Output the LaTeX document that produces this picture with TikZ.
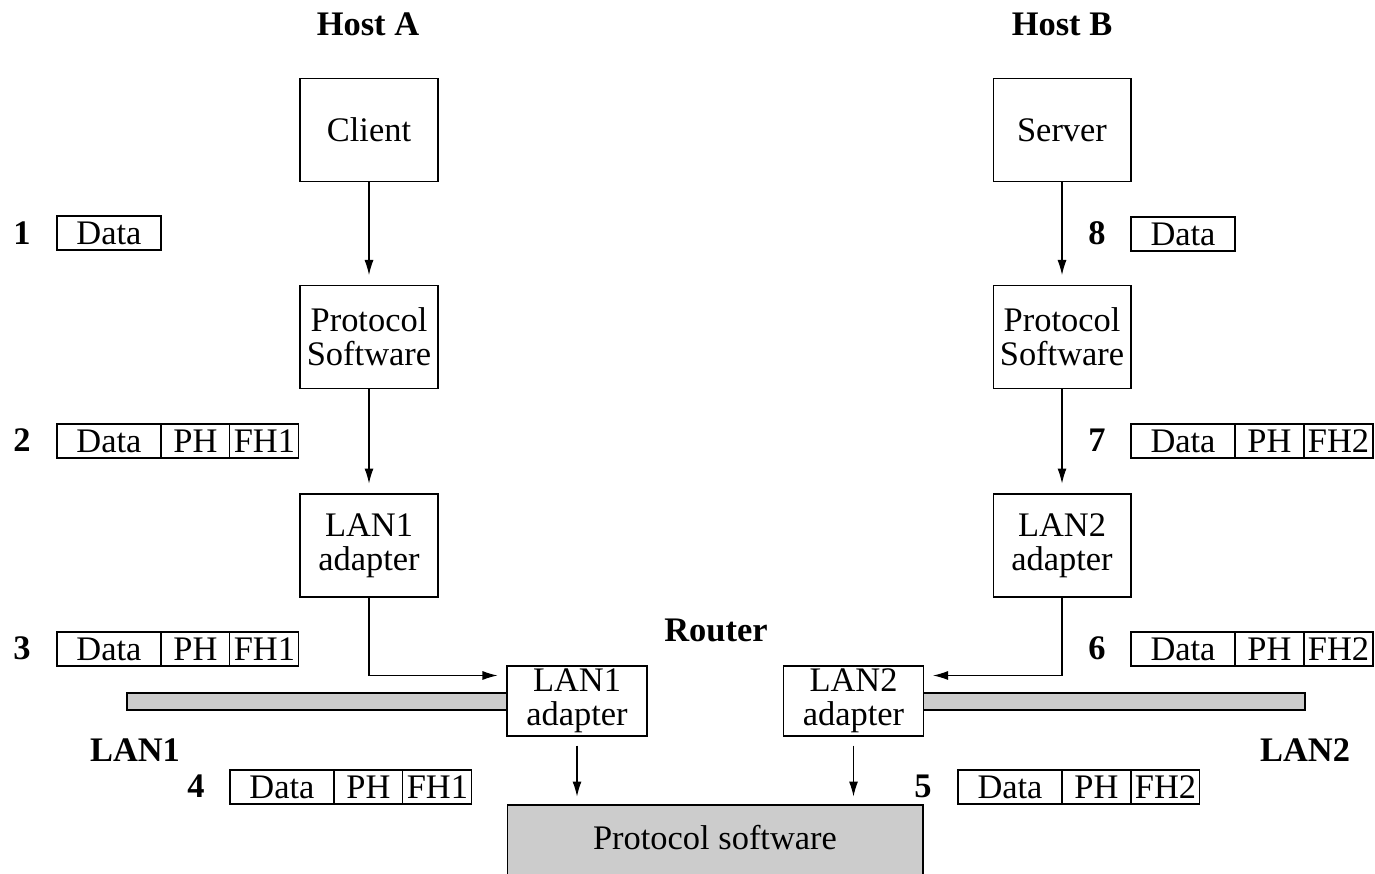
\documentclass[tikz,border=0pt]{standalone}
\usepackage{fontspec}
\setmainfont{Liberation Serif}
\usetikzlibrary{positioning,arrows.meta}
\definecolor{langray}{RGB}{204,204,204}
\newcommand{\figfont}{\fontsize{19.6}{19.4}\selectfont}
\tikzset{box/.style={draw,line width=0.6pt,minimum width=2.76cm,minimum height=2.06cm,inner sep=0pt,align=center,font=\figfont},
router box/.style={draw,line width=0.6pt,fill=white,minimum width=2.8cm,minimum height=1.4cm,inner sep=0pt,align=center,font=\figfont},
software box/.style={draw,line width=0.6pt,fill=langray,minimum width=8.32cm,minimum height=1.6cm,inner sep=0pt},
software text/.style={font=\figfont,inner sep=0pt},
lan bar/.style={draw,line width=0.6pt,fill=langray},
data cell/.style={draw,line width=0.6pt,minimum width=2.08cm,minimum height=0.68cm,inner sep=0pt,outer sep=0pt,anchor=west,font=\figfont},
header cell/.style={draw,line width=0.6pt,minimum width=1.38cm,minimum height=0.68cm,inner sep=0pt,outer sep=0pt,font=\figfont},
num label/.style={font=\figfont\bfseries,inner sep=0pt},
title/.style={font=\figfont\bfseries,inner sep=0pt},
flow/.style={line width=0.6pt,-{Latex[length=0.3cm,width=0.18cm]},shorten >=0.2cm}}

\begin{document}
\begin{tikzpicture}[x=0.02cm,y=-0.02cm]
\useasboundingbox (0,0) rectangle (1375,873);

%% titles
\node [title] (hostA) at (368,24) {Host A};
\node [title] (hostB) at (1062,24) {Host B};
\node [title] (router) at (716,630) {Router};
\node [title] (lan1) at (135,750) {LAN1};
\node [title] (lan2) at (1305,750) {LAN2};

%% host boxes
\node [box] (client) at (369,130) {Client};
\node [box] (server) at (1062,130) {Server};
\node [box] (protoA) at (369,337) {Protocol\\Software};
\node [box] (protoB) at (1062,337) {Protocol\\Software};
\node [box] (lanA) at (369,545.5) {LAN1\\adapter};
\node [box] (lanB) at (1062,545.5) {LAN2\\adapter};

%% networks
\filldraw [lan bar] (127,693) rectangle (507,710);
\filldraw [lan bar] (923,693) rectangle (1305,710);

%% router
\node [router box] (rlan1) at (577,701) {LAN1\\adapter};
\node [router box] (rlan2) at (853.5,701) {LAN2\\adapter};
\node [software box] (psw) at (715,845) {};
\node [software text] (pswtext) at (715,838) {Protocol software};

%% connector ends
\coordinate (r1in) at ([yshift=-0.2cm]rlan1.north west);
\coordinate (r2in) at ([yshift=-0.2cm]rlan2.north east);
\coordinate (p1in) at (rlan1.south |- psw.north);
\coordinate (p2in) at (rlan2.south |- psw.north);

%% arrows
\draw [flow] (client) -- (protoA);
\draw [flow] (protoA) -- (lanA);
\draw [flow] (server) -- (protoB);
\draw [flow] (protoB) -- (lanB);
\draw [flow,shorten >=0.18cm] (lanA.south) |- (r1in);
\draw [flow,shorten >=0.18cm] (lanB.south) |- (r2in);
\draw [flow,shorten <=0.18cm,shorten >=0.16cm] (rlan1.south) -- (p1in);
\draw [flow,shorten <=0.18cm,shorten >=0.16cm] (rlan2.south) -- (p2in);

%% packets
\node [data cell] (p1d) at (57,233) {Data};
\node [data cell] (p2d) at (57,441) {Data};
\node [header cell,right=0pt of p2d] (p2ph) {PH};
\node [header cell,right=0pt of p2ph] (p2fh) {FH1};
\node [data cell] (p3d) at (57,649) {Data};
\node [header cell,right=0pt of p3d] (p3ph) {PH};
\node [header cell,right=0pt of p3ph] (p3fh) {FH1};
\node [data cell] (p4d) at (230,787) {Data};
\node [header cell,right=0pt of p4d] (p4ph) {PH};
\node [header cell,right=0pt of p4ph] (p4fh) {FH1};
\node [data cell] (p5d) at (958,787) {Data};
\node [header cell,right=0pt of p5d] (p5ph) {PH};
\node [header cell,right=0pt of p5ph] (p5fh) {FH2};
\node [data cell] (p6d) at (1131,649) {Data};
\node [header cell,right=0pt of p6d] (p6ph) {PH};
\node [header cell,right=0pt of p6ph] (p6fh) {FH2};
\node [data cell] (p7d) at (1131,441) {Data};
\node [header cell,right=0pt of p7d] (p7ph) {PH};
\node [header cell,right=0pt of p7ph] (p7fh) {FH2};
\node [data cell] (p8d) at (1131,234) {Data};

%% step numbers
\node [num label] (n1) at (22,233) {1};
\node [num label] (n2) at (22,440) {2};
\node [num label] (n3) at (22,648) {3};
\node [num label] (n4) at (196,786) {4};
\node [num label] (n5) at (923,786) {5};
\node [num label] (n6) at (1097,648) {6};
\node [num label] (n7) at (1097,440) {7};
\node [num label] (n8) at (1097,233) {8};

\end{tikzpicture}
\end{document}
